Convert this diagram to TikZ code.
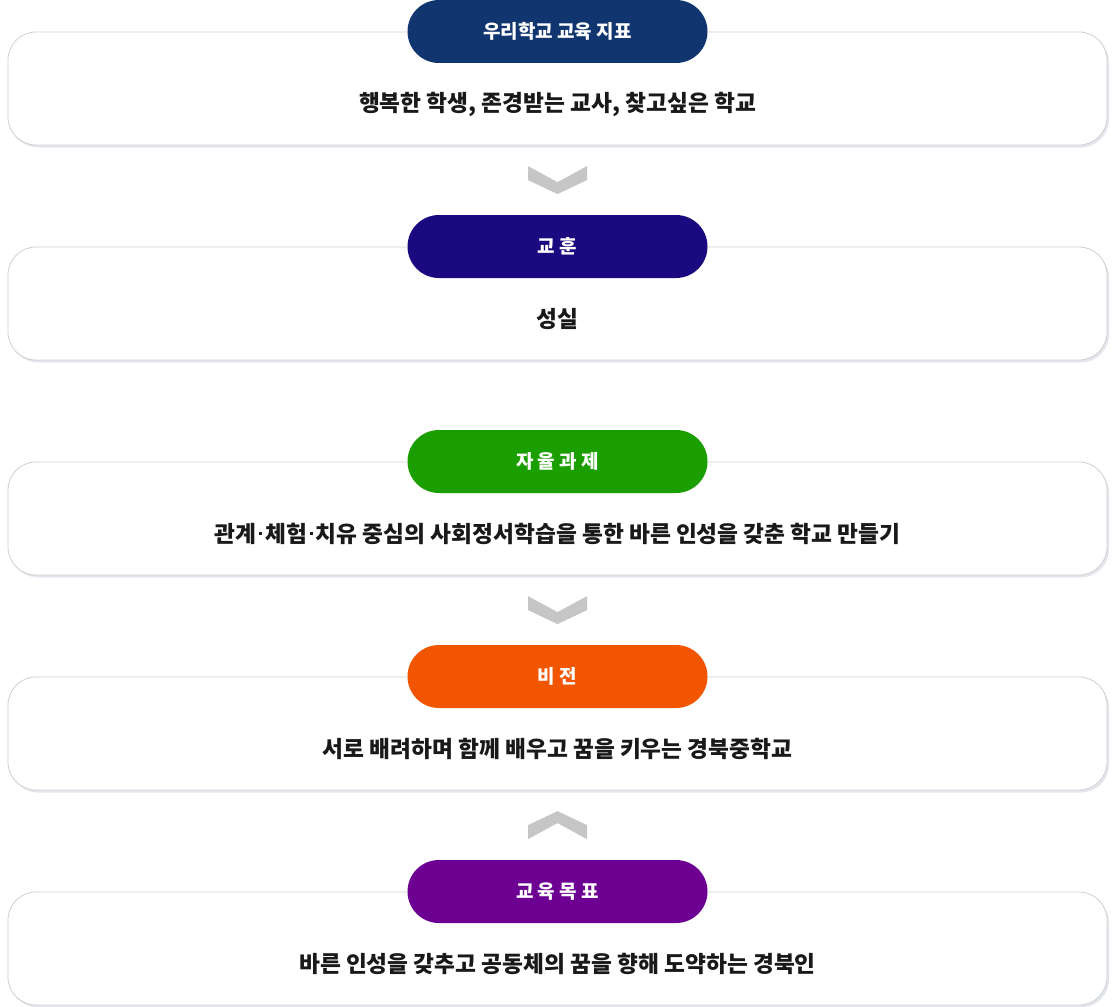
\documentclass[tikz,border=0pt]{standalone}
\usepackage{fontspec}
\setmainfont{Noto Sans CJK KR}
\usetikzlibrary{calc,shadows}

\definecolor{boxline}{HTML}{D0D0D0}
\definecolor{boxshade}{HTML}{DCE1E9}
\definecolor{chevgray}{HTML}{C6C6C6}
\definecolor{headnavy}{HTML}{10356F}
\definecolor{headindigo}{HTML}{1B0A7F}
\definecolor{headgreen}{HTML}{1B9E00}
\definecolor{headorange}{HTML}{F25500}
\definecolor{headpurple}{HTML}{6D0093}

% narrow middle dot
\newcommand{\mdot}{\kern3.2pt\raisebox{0.34em}{\rule{2.6pt}{2.6pt}}\kern3.2pt}

\begin{document}
\begin{tikzpicture}[x=1pt, y=-1pt,
  panel/.style={draw=boxline, fill=white, line width=0.8pt, rounded corners=28pt,
    minimum width=1099pt, minimum height=113pt, inner sep=0pt,
    drop shadow={shadow xshift=2pt, shadow yshift=-2.5pt, fill=boxshade, opacity=0.8}},
  headpill/.style={rounded corners=31.5pt, minimum width=300pt, minimum height=63pt,
    inner sep=0pt, text=white, font=\fontsize{19}{19}\selectfont\bfseries},
  bodytext/.style={text=black!90, font=\fontsize{22.7}{23}\selectfont\bfseries},
  chev/.style={fill=chevgray}]
\useasboundingbox (0,0) rectangle (1115,1006);

% Draw the five panels with their headings
\def\step{215}
\foreach \i/\head/\body/\col in {
  1/{우리학교 교육 지표}/{행복한 학생, 존경받는 교사, 찾고싶은 학교}/headnavy,
  2/{교 훈}/{성실}/headindigo,
  3/{자 율 과 제}/{관계\mdot 체험\mdot 치유 중심의 사회정서학습을 통한 바른 인성을 갖춘 학교 만들기}/headgreen,
  4/{비 전}/{서로 배려하며 함께 배우고 꿈을 키우는 경북중학교}/headorange,
  5/{교 육 목 표}/{바른 인성을 갖추고 공동체의 꿈을 향해 도약하는 경북인}/headpurple}{
  \node[panel] (panel\i) at (557.5, {88.5+(\i-1)*\step}) {};
  \node[headpill, fill=\col] (head\i) at (557.5, {31.5+(\i-1)*\step}) {\head};
  \node[bodytext] (text\i) at (557.5, {104+(\i-1)*\step}) {\body};
}

% draw the chevrons:
\coordinate (chevA) at ($(panel1.south)!0.5!(head2.north)$);
\coordinate (chevB) at ($(panel3.south)!0.5!(head4.north)$);
\coordinate (chevC) at ($(panel4.south)!0.5!(head5.north)$);
\fill[chev, shift={(chevA)}] (-29.5,-14) -- (0,2) -- (29.5,-14) -- (29.5,0) -- (0,14) -- (-29.5,0) -- cycle;
\fill[chev, shift={(chevB)}] (-29.5,-14) -- (0,2) -- (29.5,-14) -- (29.5,0) -- (0,14) -- (-29.5,0) -- cycle;
\fill[chev, shift={(chevC)}] (0,-14) -- (29.5,0) -- (29.5,14) -- (0,-2) -- (-29.5,14) -- (-29.5,0) -- cycle;
\end{tikzpicture}
\end{document}
